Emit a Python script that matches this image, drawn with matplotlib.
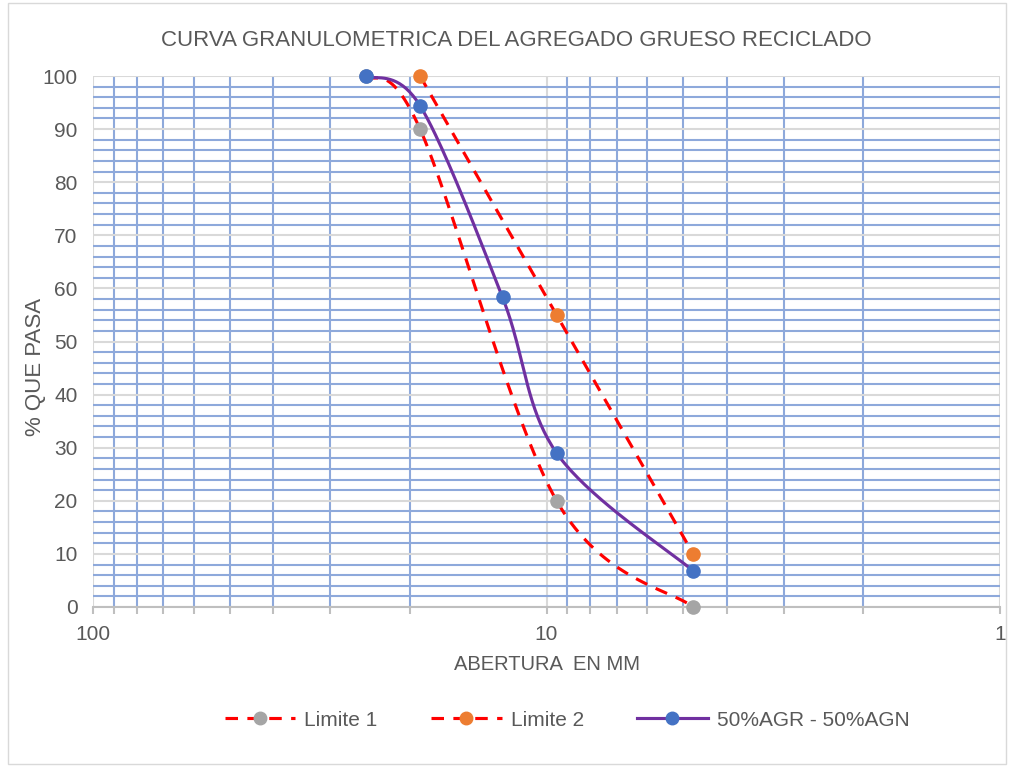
import matplotlib.pyplot as plt
import numpy as np
from matplotlib.ticker import FixedLocator, NullFormatter, FuncFormatter
from matplotlib.lines import Line2D
from matplotlib.patches import Rectangle

plt.rcParams['font.family'] = ['Liberation Sans', 'DejaVu Sans']

# datos
abertura_lim1 = [25, 19, 9.5, 4.75]
pasa_lim1 = [100, 90, 20, 0]
abertura_lim2 = [19, 9.5, 4.75]
pasa_lim2 = [100, 55, 10]
abertura_mezcla = [25, 19, 12.5, 9.5, 4.75]
pasa_mezcla = [100, 94.4, 58.3, 29.0, 6.8]

titulo = "CURVA GRANULOMETRICA DEL AGREGADO GRUESO RECICLADO"
etiquetas = ["Limite 1", "Limite 2", "50%AGR - 50%AGN"]

gris_txt = '#595959'


def suavizar(xs, ys, n=40):
    # curva suavizada estilo Excel (bezier tipo catmull-rom en espacio log)
    u = np.log10(np.array(xs, dtype=float))
    y = np.array(ys, dtype=float)
    P = np.column_stack([u, y])
    out = [P[0]]
    for i in range(len(P) - 1):
        p0 = P[i - 1] if i > 0 else P[i]
        p1 = P[i]
        p2 = P[i + 1]
        p3 = P[i + 2] if i + 2 < len(P) else P[i + 1]
        c1 = p1 + (p2 - p0) / 6
        c2 = p2 - (p3 - p1) / 6
        t = np.linspace(0, 1, n)[1:, None]
        seg = (1 - t) ** 3 * p1 + 3 * (1 - t) ** 2 * t * c1 + 3 * (1 - t) * t ** 2 * c2 + t ** 3 * p2
        out.extend(seg)
    out = np.array(out)
    return 10 ** out[:, 0], out[:, 1]


fig = plt.figure(figsize=(10.14, 7.67), dpi=100)
ax = fig.add_axes([93 / 1014, 1 - 607 / 767, 907 / 1014, 531 / 767])

fig.patches.append(Rectangle((0.008, 0.004), 0.984, 0.992, transform=fig.transFigure,
                             fill=False, edgecolor='#D9D9D9', linewidth=1))

ax.set_xscale('log')
ax.set_xlim(100, 1)
ax.set_ylim(0, 100)

# rejilla
minor_x = [m * 10 ** k for k in [0, 1] for m in range(2, 10)]
ax.xaxis.set_major_locator(FixedLocator([1, 10, 100]))
ax.xaxis.set_minor_locator(FixedLocator(minor_x))
ax.xaxis.set_major_formatter(FuncFormatter(lambda v, p: '%g' % v))
ax.xaxis.set_minor_formatter(NullFormatter())
ax.yaxis.set_major_locator(FixedLocator(range(0, 101, 10)))
ax.yaxis.set_minor_locator(FixedLocator([v for v in range(0, 101, 2) if v % 10]))

ax.grid(which='minor', color='#8EA9DB', linewidth=1.5)
ax.grid(which='major', color='#D9D9D9', linewidth=1.5)
ax.set_axisbelow(True)

for s in ['top', 'left', 'right']:
    ax.spines[s].set_visible(False)
ax.spines['bottom'].set_color('#BFBFBF')
ax.spines['bottom'].set_linewidth(1.5)

ax.tick_params(axis='y', which='both', length=0, labelsize=15, labelcolor=gris_txt, pad=11)
ax.tick_params(axis='x', which='both', length=5, color='#BFBFBF', width=1.5,
               labelsize=15, labelcolor=gris_txt, pad=8)

# curvas
x1, y1 = suavizar(abertura_lim1, pasa_lim1)
ax.plot(x1, y1, color='#FF0000', linewidth=2.25, linestyle=(0, (4, 3)), zorder=3)
ax.plot(abertura_lim1, pasa_lim1, 'o', color='#A5A5A5', markersize=9.5, zorder=4)

x2, y2 = suavizar(abertura_lim2, pasa_lim2)
ax.plot(x2, y2, color='#FF0000', linewidth=2.25, linestyle=(0, (4, 3)), zorder=3)
ax.plot(abertura_lim2, pasa_lim2, 'o', color='#ED7D31', markersize=9.5, zorder=4)

x3, y3 = suavizar(abertura_mezcla, pasa_mezcla)
ax.plot(x3, y3, color='#7030A0', linewidth=2.25, zorder=5)
ax.plot(abertura_mezcla, pasa_mezcla, 'o', color='#4472C4', markersize=9.5, zorder=6)

for line in ax.lines:
    line.set_clip_on(False)

fig.text(516 / 1014, 1 - 40 / 767, titulo, fontsize=16, color=gris_txt, ha='center', va='center')
ax.set_xlabel("ABERTURA  EN MM", fontsize=14.5, color=gris_txt, labelpad=8)
ax.set_ylabel("% QUE PASA", fontsize=16, color=gris_txt)
ax.yaxis.set_label_coords(-0.052, 0.452)

handles = [
    Line2D([], [], color='#FF0000', linewidth=2.25, linestyle=(0, (4, 3)), marker='o',
           markerfacecolor='#A5A5A5', markeredgecolor='#A5A5A5', markersize=9),
    Line2D([], [], color='#FF0000', linewidth=2.25, linestyle=(0, (4, 3)), marker='o',
           markerfacecolor='#ED7D31', markeredgecolor='#ED7D31', markersize=9),
    Line2D([], [], color='#7030A0', linewidth=2.25, marker='o',
           markerfacecolor='#4472C4', markeredgecolor='#4472C4', markersize=9),
]
leg = fig.legend(handles, etiquetas, loc='center', bbox_to_anchor=(567 / 1014, 1 - 720 / 767),
                 ncol=3, frameon=False, fontsize=15, handlelength=3.4, columnspacing=2.55,
                 handletextpad=0.43)
for t in leg.get_texts():
    t.set_color(gris_txt)

fig.savefig('out.png', dpi=100)
